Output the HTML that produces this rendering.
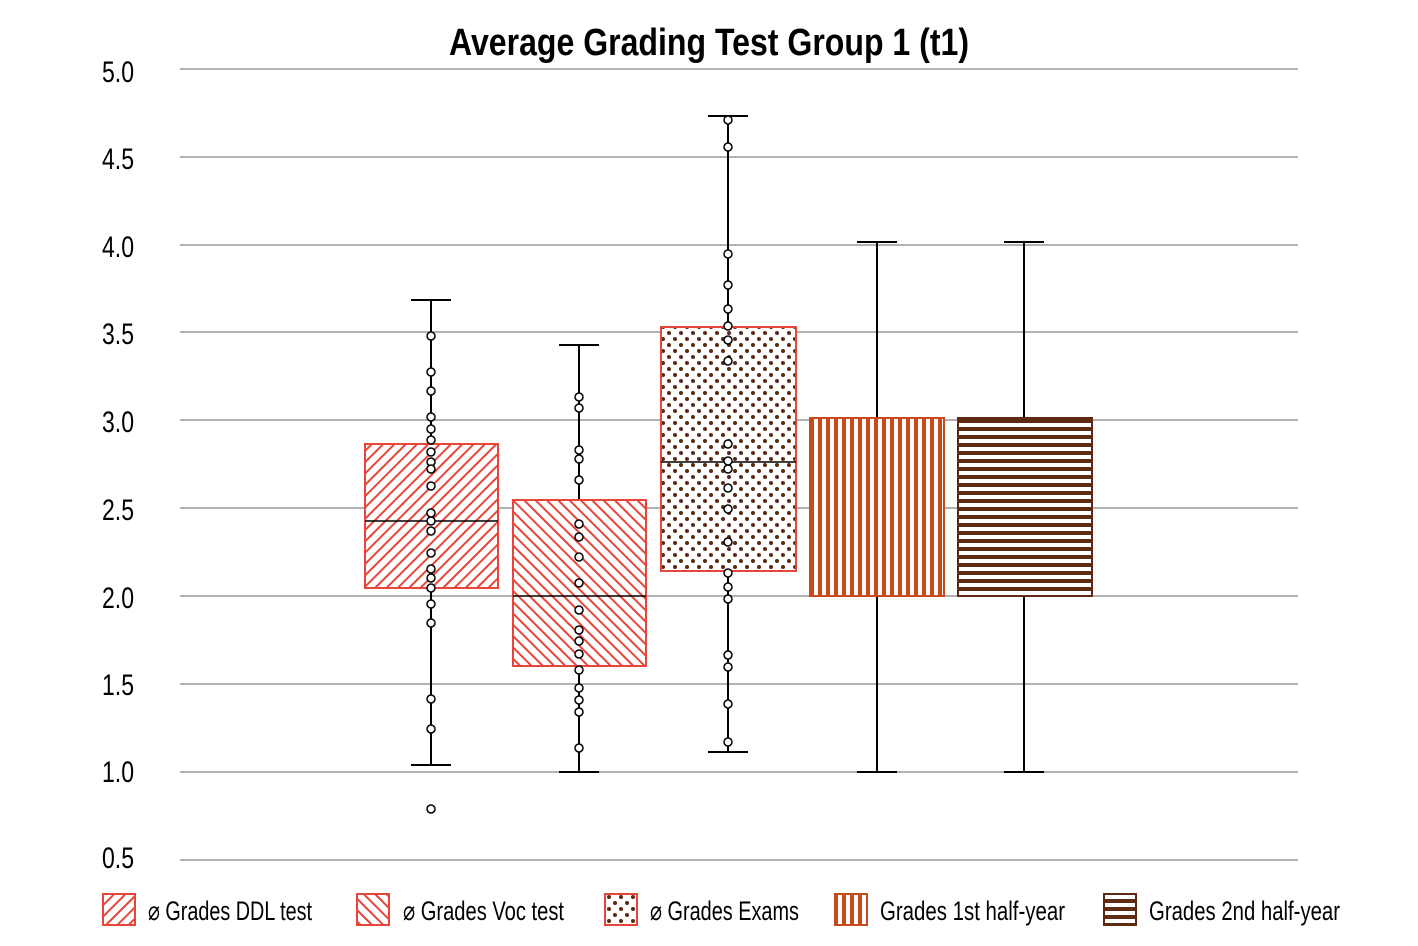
<!DOCTYPE html>
<html><head><meta charset="utf-8"><style>
html,body{margin:0;padding:0;background:#fff}
svg{display:block}
text{font-family:"Liberation Sans Narrow","Liberation Sans",sans-serif;fill:#000}
</style></head><body>
<svg width="1418" height="946" viewBox="0 0 1418 946" xmlns="http://www.w3.org/2000/svg">
<defs>
<pattern id="h1" width="8" height="8" patternUnits="userSpaceOnUse" patternTransform="rotate(45)">
<rect width="8" height="8" fill="#fff"/><rect x="0" y="0" width="2" height="8" fill="#e8453a"/></pattern>
<pattern id="h2" width="8" height="8" patternUnits="userSpaceOnUse" patternTransform="rotate(-45)">
<rect width="8" height="8" fill="#fff"/><rect x="0" y="0" width="2" height="8" fill="#e8453a"/></pattern>
<pattern id="dots" width="12" height="12" patternUnits="userSpaceOnUse">
<rect width="12" height="12" fill="#fff"/><circle cx="3" cy="3" r="2" fill="#5a2a12"/><circle cx="9" cy="9" r="2" fill="#5a2a12"/></pattern>
<pattern id="vs" width="8" height="8" patternUnits="userSpaceOnUse">
<rect width="8" height="8" fill="#fff"/><rect x="2" width="4" height="8" fill="#c84a1c"/></pattern>
<pattern id="hs" width="8" height="8" patternUnits="userSpaceOnUse">
<rect width="8" height="8" fill="#fff"/><rect y="3" width="8" height="4" fill="#5e2a12"/></pattern>
</defs>
<text x="709" y="55" font-size="38" font-weight="bold" text-anchor="middle" textLength="520" lengthAdjust="spacingAndGlyphs">Average Grading Test Group 1 (t1)</text>
<g stroke="#999" stroke-width="1.5">
<line x1="180" x2="1298" y1="69" y2="69"/><line x1="180" x2="1298" y1="157" y2="157"/>
<line x1="180" x2="1298" y1="245" y2="245"/><line x1="180" x2="1298" y1="332" y2="332"/>
<line x1="180" x2="1298" y1="420" y2="420"/><line x1="180" x2="1298" y1="508" y2="508"/>
<line x1="180" x2="1298" y1="596" y2="596"/><line x1="180" x2="1298" y1="684" y2="684"/>
<line x1="180" x2="1298" y1="772" y2="772"/><line x1="180" x2="1298" y1="860" y2="860"/>
</g>
<g font-size="30">
<text x="102" y="82" textLength="32" lengthAdjust="spacingAndGlyphs">5.0</text><text x="102" y="169" textLength="32" lengthAdjust="spacingAndGlyphs">4.5</text><text x="102" y="257" textLength="32" lengthAdjust="spacingAndGlyphs">4.0</text>
<text x="102" y="344" textLength="32" lengthAdjust="spacingAndGlyphs">3.5</text><text x="102" y="432" textLength="32" lengthAdjust="spacingAndGlyphs">3.0</text><text x="102" y="520" textLength="32" lengthAdjust="spacingAndGlyphs">2.5</text>
<text x="102" y="608" textLength="32" lengthAdjust="spacingAndGlyphs">2.0</text><text x="102" y="695" textLength="32" lengthAdjust="spacingAndGlyphs">1.5</text><text x="102" y="782" textLength="32" lengthAdjust="spacingAndGlyphs">1.0</text>
<text x="102" y="868" textLength="32" lengthAdjust="spacingAndGlyphs">0.5</text>
</g>
<g stroke="#000" stroke-width="2">
<line x1="431" x2="431" y1="300" y2="765"/><line x1="411" x2="451" y1="300" y2="300"/><line x1="411" x2="451" y1="765" y2="765"/>
<line x1="579" x2="579" y1="345" y2="772"/><line x1="559" x2="599" y1="345" y2="345"/><line x1="559" x2="599" y1="772" y2="772"/>
<line x1="728" x2="728" y1="116" y2="752"/><line x1="708" x2="748" y1="116" y2="116"/><line x1="708" x2="748" y1="752" y2="752"/>
<line x1="877" x2="877" y1="242" y2="772"/><line x1="857" x2="897" y1="242" y2="242"/><line x1="857" x2="897" y1="772" y2="772"/>
<line x1="1024" x2="1024" y1="242" y2="772"/><line x1="1004" x2="1044" y1="242" y2="242"/><line x1="1004" x2="1044" y1="772" y2="772"/>
</g>
<rect x="365" y="444" width="133" height="144" fill="url(#h1)" stroke="#e8453a" stroke-width="2"/>
<rect x="513" y="500" width="133" height="166" fill="url(#h2)" stroke="#e8453a" stroke-width="2"/>
<rect x="661" y="327" width="135" height="244" fill="url(#dots)" stroke="#e8453a" stroke-width="2"/>
<rect x="810" y="418" width="134" height="178" fill="url(#vs)" stroke="#c84a1c" stroke-width="2"/>
<rect x="958" y="418" width="134" height="178" fill="url(#hs)" stroke="#5e2a12" stroke-width="2"/>
<g stroke="#000" stroke-width="1.5">
<line x1="365" x2="498" y1="521" y2="521"/><line x1="513" x2="646" y1="596" y2="596"/><line x1="661" x2="796" y1="462" y2="462"/>
</g>
<g fill="#fff" stroke="#000" stroke-width="1.5">
<circle cx="431" cy="336" r="4"/><circle cx="431" cy="372" r="4"/><circle cx="431" cy="391" r="4"/><circle cx="431" cy="417" r="4"/><circle cx="431" cy="429" r="4"/><circle cx="431" cy="440" r="4"/><circle cx="431" cy="452" r="4"/><circle cx="431" cy="462" r="4"/><circle cx="431" cy="469" r="4"/><circle cx="431" cy="486" r="4"/><circle cx="431" cy="513" r="4"/><circle cx="431" cy="521" r="4"/><circle cx="431" cy="531" r="4"/><circle cx="431" cy="553" r="4"/><circle cx="431" cy="569" r="4"/><circle cx="431" cy="578" r="4"/><circle cx="431" cy="588" r="4"/><circle cx="431" cy="604" r="4"/><circle cx="431" cy="623" r="4"/><circle cx="431" cy="699" r="4"/><circle cx="431" cy="729" r="4"/><circle cx="431" cy="809" r="4"/>
<circle cx="579" cy="397" r="4"/><circle cx="579" cy="408" r="4"/><circle cx="579" cy="450" r="4"/><circle cx="579" cy="459" r="4"/><circle cx="579" cy="480" r="4"/><circle cx="579" cy="524" r="4"/><circle cx="579" cy="537" r="4"/><circle cx="579" cy="557" r="4"/><circle cx="579" cy="583" r="4"/><circle cx="579" cy="610" r="4"/><circle cx="579" cy="630" r="4"/><circle cx="579" cy="641" r="4"/><circle cx="579" cy="654" r="4"/><circle cx="579" cy="670" r="4"/><circle cx="579" cy="688" r="4"/><circle cx="579" cy="700" r="4"/><circle cx="579" cy="712" r="4"/><circle cx="579" cy="748" r="4"/>
<circle cx="728" cy="120" r="4"/><circle cx="728" cy="147" r="4"/><circle cx="728" cy="254" r="4"/><circle cx="728" cy="285" r="4"/><circle cx="728" cy="309" r="4"/><circle cx="728" cy="326" r="4"/><circle cx="728" cy="340" r="4"/><circle cx="728" cy="361" r="4"/><circle cx="728" cy="444" r="4"/><circle cx="728" cy="461" r="4"/><circle cx="728" cy="469" r="4"/><circle cx="728" cy="488" r="4"/><circle cx="728" cy="509" r="4"/><circle cx="728" cy="542" r="4"/><circle cx="728" cy="573" r="4"/><circle cx="728" cy="587" r="4"/><circle cx="728" cy="599" r="4"/><circle cx="728" cy="655" r="4"/><circle cx="728" cy="667" r="4"/><circle cx="728" cy="704" r="4"/><circle cx="728" cy="742" r="4"/>
</g>
<rect x="103" y="894" width="32" height="31" fill="url(#h1)" stroke="#e8453a" stroke-width="2"/>
<rect x="357" y="894" width="32" height="31" fill="url(#h2)" stroke="#e8453a" stroke-width="2"/>
<rect x="605" y="894" width="32" height="31" fill="url(#dots)" stroke="#e8453a" stroke-width="2"/>
<rect x="835" y="894" width="32" height="31" fill="url(#vs)" stroke="#c84a1c" stroke-width="2"/>
<rect x="1104" y="894" width="32" height="31" fill="url(#hs)" stroke="#5e2a12" stroke-width="2"/>
<g font-size="27">
<text x="148" y="920" textLength="164" lengthAdjust="spacingAndGlyphs">⌀ Grades DDL test</text>
<text x="403" y="920" textLength="161" lengthAdjust="spacingAndGlyphs">⌀ Grades Voc test</text>
<text x="650" y="920" textLength="149" lengthAdjust="spacingAndGlyphs">⌀ Grades Exams</text>
<text x="880" y="920" textLength="185" lengthAdjust="spacingAndGlyphs">Grades 1st half-year</text>
<text x="1149" y="920" textLength="191" lengthAdjust="spacingAndGlyphs">Grades 2nd half-year</text>
</g>
</svg>
</body></html>
